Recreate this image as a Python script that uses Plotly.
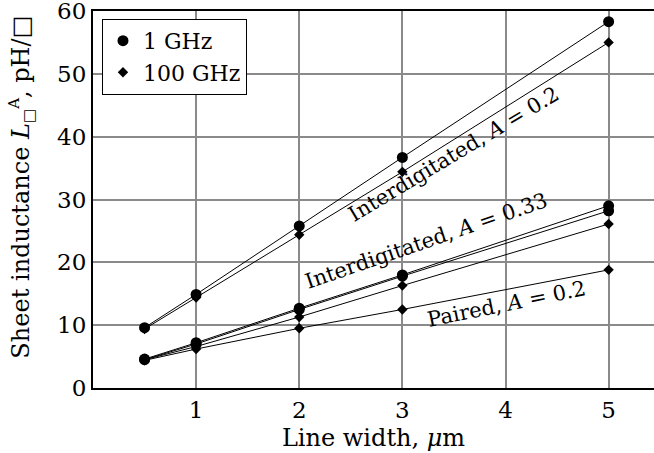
import plotly.graph_objects as go

# ---- data ----
line_width_um = [0.5, 1, 2, 3, 5]
interdig_02_1ghz = [9.6, 14.9, 25.8, 36.7, 58.3]
interdig_02_100ghz = [9.4, 14.4, 24.4, 34.4, 55.0]
interdig_033_1ghz = [4.6, 7.2, 12.7, 18.0, 29.0]
interdig_033_100ghz = [4.5, 6.6, 11.3, 16.3, 26.1]
paired_02_1ghz = [4.5, 7.0, 12.5, 17.8, 28.2]
paired_02_100ghz = [4.4, 6.2, 9.5, 12.5, 18.8]

y_ticks = [0, 10, 20, 30, 40, 50, 60]
x_ticks = [1, 2, 3, 4, 5]

FONT = "DejaVu Serif"

series = [
    (interdig_02_1ghz, "circle", 11),
    (interdig_02_100ghz, "diamond", 8),
    (interdig_033_1ghz, "circle", 11),
    (interdig_033_100ghz, "diamond", 8),
    (paired_02_1ghz, "circle", 11),
    (paired_02_100ghz, "diamond", 8),
]

fig = go.Figure()
for ys, sym, sz in series:
    fig.add_trace(go.Scatter(
        x=line_width_um, y=ys, mode="lines+markers",
        line=dict(color="black", width=1),
        marker=dict(symbol=sym, size=sz, color="black"),
        showlegend=False, hoverinfo="x+y"))

# legend-only entries (markers only)
fig.add_trace(go.Scatter(x=[None], y=[None], mode="markers", name="1 GHz",
                         marker=dict(symbol="circle", size=11, color="black")))
fig.add_trace(go.Scatter(x=[None], y=[None], mode="markers", name="100 GHz",
                         marker=dict(symbol="diamond", size=8, color="black")))

annots = [
    ("Interdigitated, <i>A</i> = 0.2", 3.5, 37.3, -31),
    ("Interdigitated, <i>A</i> = 0.33", 3.23, 23.4, -19),
    ("Paired, <i>A</i> = 0.2", 4.01, 13.3, -11.5),
]
for txt, ax_, ay_, ang in annots:
    fig.add_annotation(x=ax_, y=ay_, xref="x", yref="y", text=txt, showarrow=False,
                       textangle=ang, font=dict(family=FONT, size=21, color="black"))

# y-axis title
fig.add_annotation(
    x=-0.128, y=0.532, xref="paper", yref="paper", xanchor="center", yanchor="middle",
    text="Sheet inductance <i>L</i><sub><span style='font-size:15px'>□</span></sub>"
         "<sup><span style='font-size:15px'>A</span></sup>, pH/□",
    textangle=-90, showarrow=False, font=dict(family=FONT, size=24, color="black"))

fig.update_layout(
    width=654, height=453,
    margin=dict(l=93, r=0, t=11, b=65, autoexpand=False),
    paper_bgcolor="white", plot_bgcolor="white",
    font=dict(family=FONT, size=23, color="black"),
    legend=dict(x=0.016, y=0.979, xanchor="left", yanchor="top",
                bgcolor="white", bordercolor="black", borderwidth=1,
                font=dict(family=FONT, size=22, color="black"),
                tracegroupgap=0, itemsizing="trace"),
)
fig.update_xaxes(
    range=[0, 5.44], tickvals=x_ticks, ticktext=[str(v) for v in x_ticks],
    showgrid=True, gridcolor="#8a8a8a", gridwidth=1.5,
    showline=True, linecolor="black", linewidth=2, mirror=True,
    ticks="", zeroline=False, automargin=False, ticklabeloverflow="allow",
    title=dict(text="Line width, <i>μ</i>m", font=dict(family=FONT, size=24), standoff=8),
)
fig.update_yaxes(
    range=[0, 60], tickvals=y_ticks, ticktext=[str(v) for v in y_ticks],
    showgrid=True, gridcolor="#8a8a8a", gridwidth=1.5,
    showline=True, linecolor="black", linewidth=2, mirror=False,
    ticks="", zeroline=False, automargin=False, ticklabeloverflow="allow",
)

fig.write_html("out.html")
